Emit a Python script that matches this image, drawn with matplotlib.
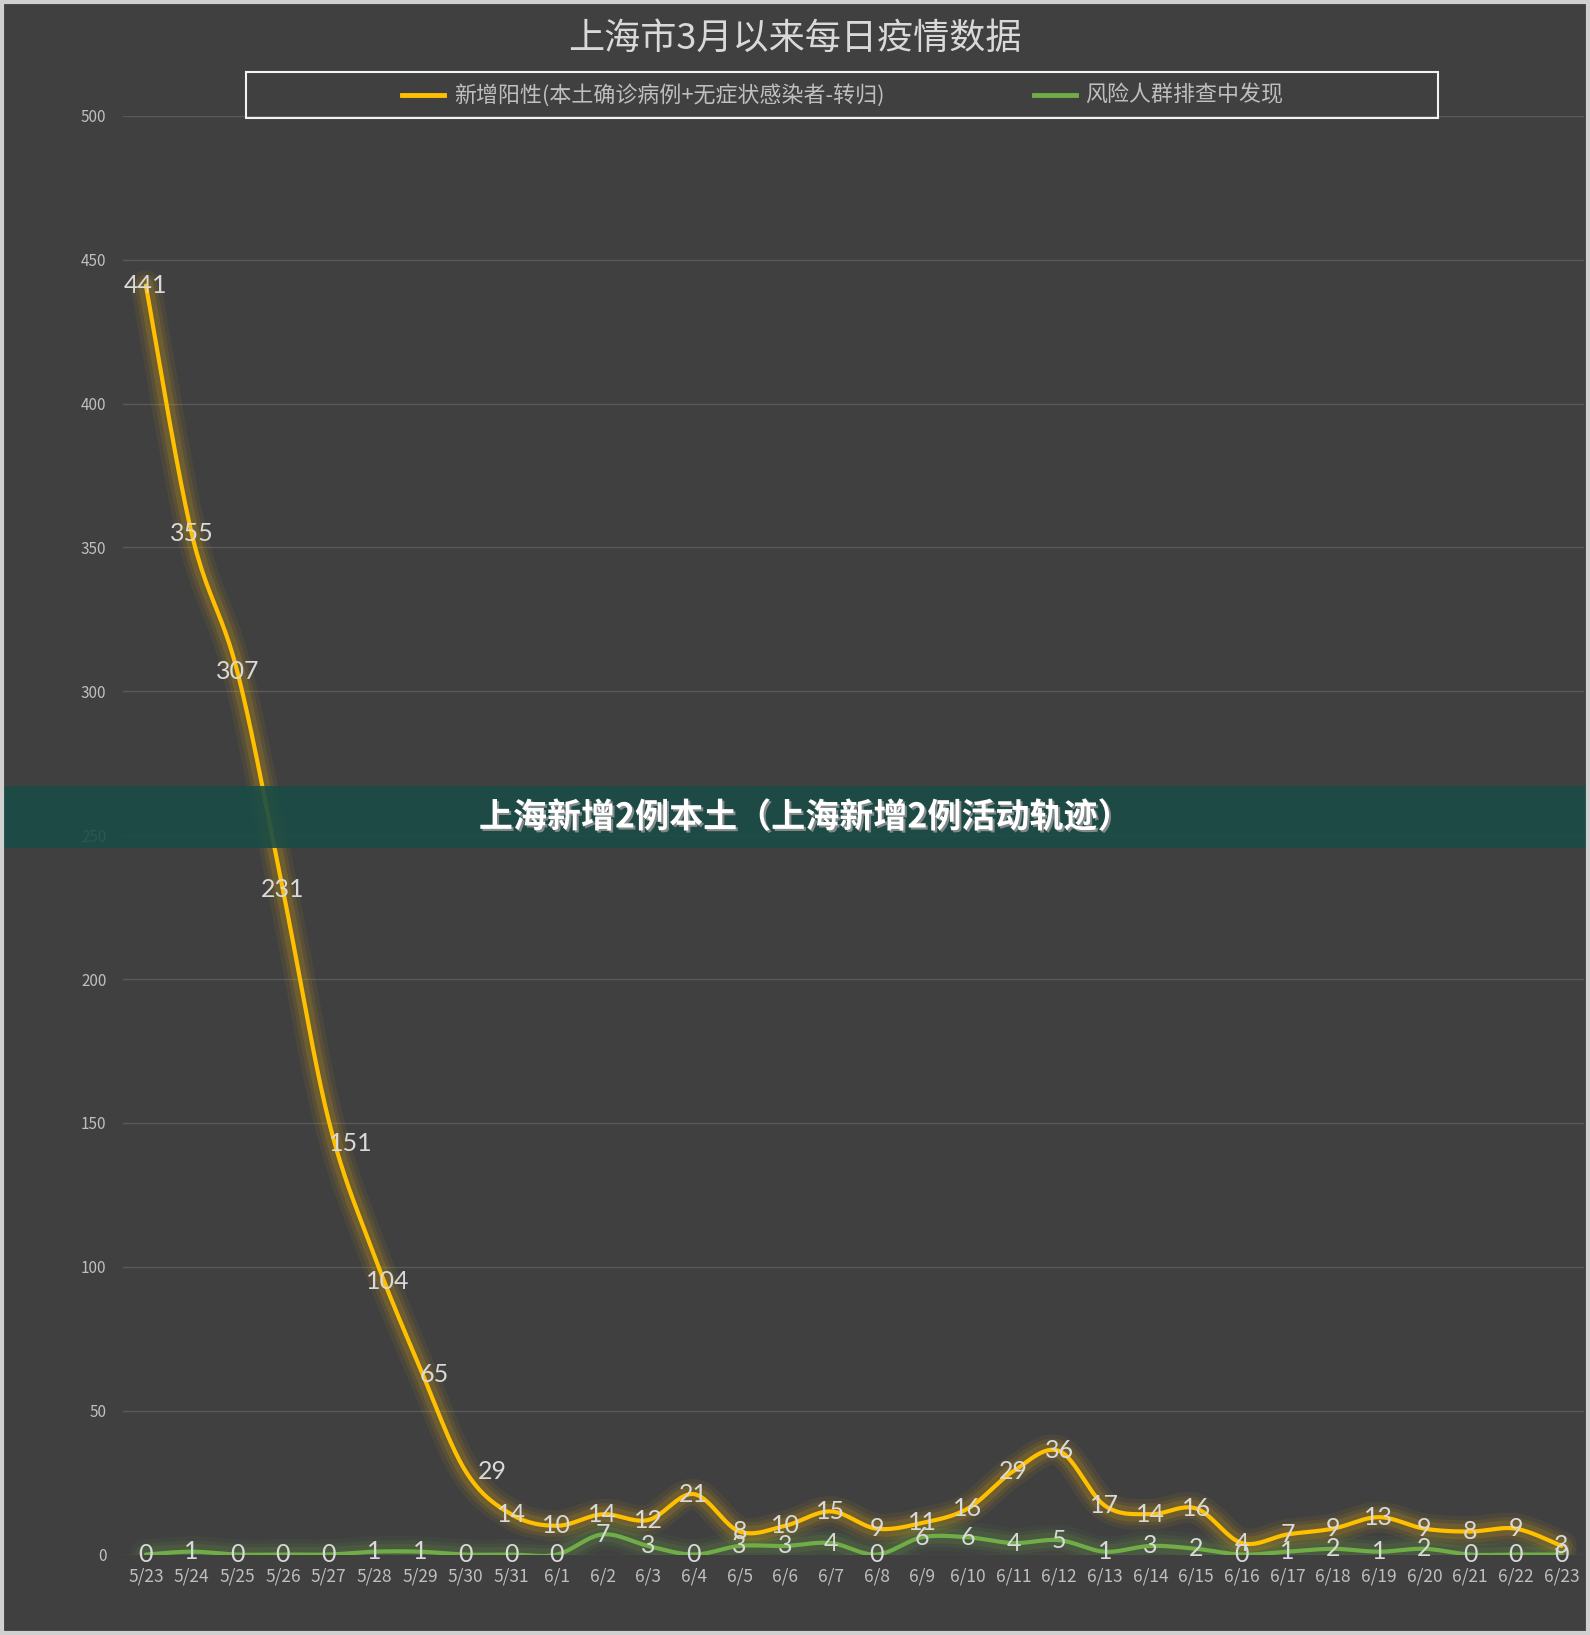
import numpy as np
import matplotlib.pyplot as plt
import matplotlib.patheffects as pe
from matplotlib.patches import Rectangle
from matplotlib.lines import Line2D

plt.rcParams['font.family'] = ['Noto Sans CJK SC', 'DejaVu Sans']

# ---- data ----
dates = ['5/23', '5/24', '5/25', '5/26', '5/27', '5/28', '5/29', '5/30', '5/31',
         '6/1', '6/2', '6/3', '6/4', '6/5', '6/6', '6/7', '6/8', '6/9', '6/10',
         '6/11', '6/12', '6/13', '6/14', '6/15', '6/16', '6/17', '6/18', '6/19',
         '6/20', '6/21', '6/22', '6/23']
new_positive = [441, 355, 307, 231, 151, 104, 65, 29, 14, 10, 14, 12, 21, 8, 10, 15,
                9, 11, 16, 29, 36, 17, 14, 16, 4, 7, 9, 13, 9, 8, 9, 3]
risk_screening = [0, 1, 0, 0, 0, 1, 1, 0, 0, 0, 7, 3, 0, 3, 3, 4, 0, 6, 6, 4, 5, 1,
                  3, 2, 0, 1, 2, 1, 2, 0, 0, 0]
series_names = ['新增阳性(本土确诊病例+无症状感染者-转归)', '风险人群排查中发现']
title = '上海市3月以来每日疫情数据'
banner_text = '上海新增2例本土（上海新增2例活动轨迹）'
yticks = list(range(0, 501, 50))

# a few labels in the original were nudged off their points (offset in points)
label_nudge = {4: (16, -17), 5: (10, -19), 6: (10, -5), 7: (19, 0)}

BG = '#404040'
YELLOW = '#ffc000'
GREEN = '#70ad47'
LABEL = '#d9d9d9'
TICK = '#bfbfbf'


def smooth(x, y, n=24):
    """Catmull-Rom curve through the points (like Excel's smoothed line)."""
    p = np.column_stack([x, y]).astype(float)
    p = np.vstack([p[0], p, p[-1]])
    t = np.linspace(0, 1, n)[:, None]
    out = []
    for i in range(1, len(p) - 2):
        p0, p1, p2, p3 = p[i - 1], p[i], p[i + 1], p[i + 2]
        seg = 0.5 * ((2 * p1) + (-p0 + p2) * t
                     + (2 * p0 - 5 * p1 + 4 * p2 - p3) * t ** 2
                     + (-p0 + 3 * p1 - 3 * p2 + p3) * t ** 3)
        out.append(seg if i == 1 else seg[1:])
    out = np.vstack(out)
    return out[:, 0], out[:, 1]


fig = plt.figure(figsize=(15.9, 16.35), dpi=100, facecolor=BG)
ax = fig.add_axes([0.0774, 0.0492, 0.919, 0.8800])
ax.set_facecolor(BG)

x = np.arange(len(dates))
for vals, col in [(risk_screening, GREEN), (new_positive, YELLOW)]:
    sx, sy = smooth(x, vals)
    for lw, a in [(22, 0.06), (16, 0.08), (11, 0.12)]:
        ax.plot(sx, sy, color=col, lw=lw, alpha=a, solid_capstyle='round', zorder=2)
    ax.plot(sx, sy, color=col, lw=3, solid_capstyle='round', zorder=3)

for k, vals in enumerate([new_positive, risk_screening]):
    for xi, v in zip(x, vals):
        off = label_nudge.get(xi, (0, 0)) if k == 0 else (0, 0)
        ax.annotate(str(v), (xi, v), xytext=off, textcoords='offset points',
                    ha='center', va='center', fontsize=18, color=LABEL,
                    family=['Lato', 'DejaVu Sans'], zorder=5)

ax.set_xlim(-0.5, len(dates) - 0.5)
ax.set_ylim(0, 500)
ax.set_yticks(yticks)
ax.set_xticks(x)
ax.set_xticklabels(dates)
ax.tick_params(axis='both', length=0, colors=TICK)
ax.tick_params(axis='x', labelsize=12.5, pad=9)
ax.tick_params(axis='y', labelsize=11, pad=12)
ax.grid(axis='y', color='#595959', lw=1)
ax.set_axisbelow(True)
for s in ax.spines.values():
    s.set_visible(False)

# title
fig.text(0.5, 0.976, title, ha='center', va='center', fontsize=26, color=LABEL)

# legend box
fig.patches.append(Rectangle((246 / 1590, 1 - 118 / 1635), 1192 / 1590, 46 / 1635,
                             transform=fig.transFigure, fill=False,
                             edgecolor='#f2f2f2', lw=1.5))
ly = 1 - 95 / 1635
for (x0, x1, tx), name, col in zip([(402, 444, 454), (1034, 1076, 1085)],
                                   series_names, [YELLOW, GREEN]):
    fig.lines.append(Line2D([x0 / 1590, x1 / 1590], [ly, ly], transform=fig.transFigure,
                            color=col, lw=3.5))
    fig.text(tx / 1590, ly, name, ha='left', va='center', fontsize=15.8, color=TICK)

# banner over the chart
fig.patches.append(Rectangle((0, 1 - 848 / 1635), 1, 62 / 1635, transform=fig.transFigure,
                             facecolor='#1a4c45', alpha=0.9, zorder=10))
fig.text(0.5 + 10 / 1590, 1 - 817 / 1635, banner_text, ha='center', va='center',
         fontsize=24.5, fontweight='bold', color='white', zorder=11,
         path_effects=[pe.SimplePatchShadow(offset=(1.5, -1.5), shadow_rgbFace='#9a9a9a',
                                            alpha=0.8), pe.Normal()])

# outer frame
fig.patches.append(Rectangle((0.001, 0.001), 0.998, 0.998, transform=fig.transFigure,
                             fill=False, edgecolor='#d0d0d0', lw=3, zorder=12))

fig.savefig('out.png', dpi=100, facecolor=BG)
